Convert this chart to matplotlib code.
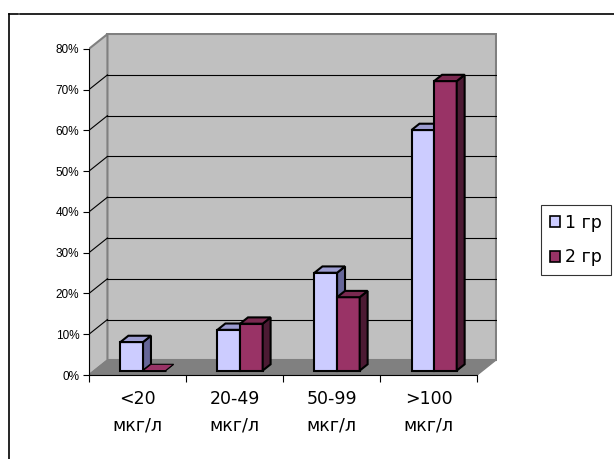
import matplotlib.pyplot as plt
from matplotlib.patches import Polygon, Patch
from matplotlib.lines import Line2D
import numpy as np

plt.rcParams['font.family'] = ['Liberation Sans', 'DejaVu Sans']

categories = ["<20\nмкг/л", "20-49\nмкг/л", "50-99\nмкг/л", ">100\nмкг/л"]
series_names = ["1 гр", "2 гр"]
group1 = [7, 10, 24, 59]
group2 = [0, 11.5, 18, 71]
yticks = [0, 10, 20, 30, 40, 50, 60, 70, 80]

front_colors = ["#CCCCFF", "#993366"]
top_colors = ["#9C9CD0", "#7A2950"]
side_colors = ["#666699", "#4C1A33"]

# depth of the pseudo-3d box in data units
DX = 0.19
DY = 3.6
ymax = 80

fig = plt.figure(figsize=(6.14, 4.59), dpi=100)
ax = fig.add_axes([89 / 614, 84 / 459, 407.5 / 614, 342.5 / 459])
ax.set_xlim(0, 4.2)
ax.set_ylim(0, 84)
ax.patch.set_visible(False)

n = len(categories)

# walls and floor
back = Polygon([(DX, DY), (n + DX, DY), (n + DX, ymax + DY), (DX, ymax + DY)],
               closed=True, facecolor="#C0C0C0", edgecolor="#808080", lw=1.5, zorder=0)
left = Polygon([(0, 0), (DX, DY), (DX, ymax + DY), (0, ymax)],
               closed=True, facecolor="#C0C0C0", edgecolor="#808080", lw=1.5, zorder=0)
floor = Polygon([(0, 0), (n, 0), (n + DX, DY), (DX, DY)],
                closed=True, facecolor="#808080", edgecolor="#808080", lw=1, zorder=0.5)
for p in (back, left, floor):
    ax.add_patch(p)

# gridlines on back and side walls
for y in yticks[1:-1]:
    ax.plot([DX, n + DX], [y + DY, y + DY], color="black", lw=0.8, zorder=1)
    ax.plot([0, DX], [y, y + DY], color="black", lw=0.8, zorder=1)

# bars
w = 0.233
d0 = 0.3
bd = 0.43
z = 2
for i in range(n):
    for s, vals in enumerate([group1, group2]):
        v = vals[i]
        xl = i + 0.5 - w + s * w + d0 * DX
        yb = d0 * DY
        xr = xl + w
        yt = yb + v
        ex, ey = bd * DX, bd * DY
        lw = 1.5 if v > 0 else 0.8
        ax.bar(xl, v, w, bottom=yb, align='edge', color=front_colors[s],
               edgecolor="black", lw=lw, zorder=z)
        ax.add_patch(Polygon([(xr, yb), (xr + ex, yb + ey), (xr + ex, yt + ey), (xr, yt)],
                             closed=True, facecolor=side_colors[s], edgecolor="black",
                             lw=lw, zorder=z))
        ax.add_patch(Polygon([(xl, yt), (xr, yt), (xr + ex, yt + ey), (xl + ex, yt + ey)],
                             closed=True, facecolor=top_colors[s] if v > 0 else front_colors[s],
                             edgecolor="black", lw=lw, zorder=z))
        z += 1

# axes
for side in ("top", "right"):
    ax.spines[side].set_visible(False)
ax.spines["left"].set_bounds(0, ymax)
ax.spines["bottom"].set_bounds(0, n)
ax.spines["left"].set_zorder(20)
ax.spines["bottom"].set_zorder(20)

ax.set_yticks(yticks)
ax.set_yticklabels([f"{t}%" for t in yticks], fontsize=8.5)
ax.tick_params(axis="y", length=4, width=0.8, pad=3)

ax.set_xticks(np.arange(n + 1))
ax.set_xticklabels([])
ax.set_xticks(np.arange(n) + 0.5, minor=True)
ax.set_xticklabels(categories, minor=True, fontsize=12.5, linespacing=1.65,
                   family=['DejaVu Sans'])
ax.tick_params(axis="x", which="major", length=5, width=0.8)
ax.tick_params(axis="x", which="minor", length=0, pad=10.5)

handles = [Patch(facecolor=front_colors[k], edgecolor="black", lw=1.2) for k in range(2)]
leg = fig.legend(handles, series_names, loc="upper left",
                 bbox_to_anchor=(541 / 614, 1 - 205 / 459),
                 prop={'family': 'DejaVu Sans', 'size': 12.5},
                 frameon=True, fancybox=False, handlelength=0.6, handleheight=0.6,
                 handletextpad=0.3, labelspacing=0.95, borderpad=0.5, borderaxespad=0)
leg.get_frame().set_edgecolor("black")
leg.get_frame().set_linewidth(0.8)

# outer chart frame
fig.add_artist(Line2D([9 / 614, 18 / 614], [1 - 14 / 459, 1 - 14 / 459], color="black", lw=1.2))
fig.add_artist(Line2D([20 / 614, 1], [1 - 14 / 459, 1 - 14 / 459], color="black", lw=1.2))
fig.add_artist(Line2D([9 / 614, 9 / 614], [0, 1 - 14 / 459], color="black", lw=1.2))

fig.savefig("out.png", dpi=100)
